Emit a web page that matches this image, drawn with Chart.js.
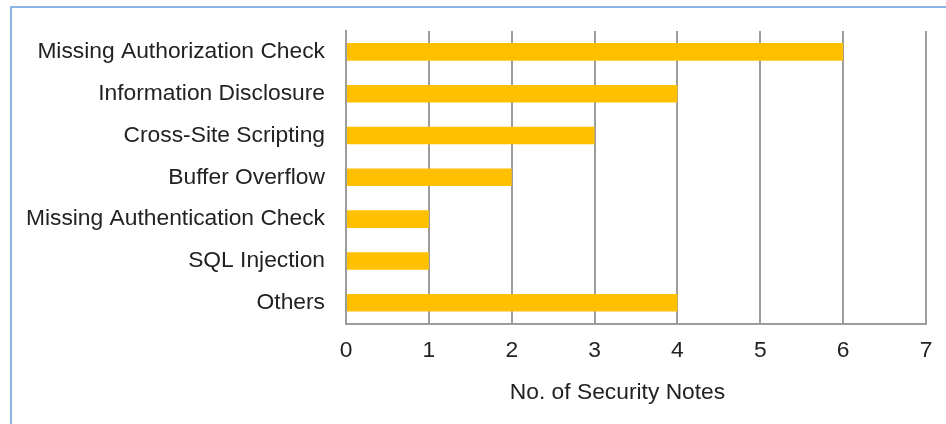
<!DOCTYPE html>
<html>
<head>
<meta charset="utf-8">
<script src="https://cdn.jsdelivr.net/npm/chart.js@4/dist/chart.umd.min.js"></script>
<style>
  html, body { margin: 0; padding: 0; background: #fff; }
  #wrap { position: relative; width: 946px; height: 424px; overflow: hidden; }
  #frame { position: absolute; left: 10px; top: 6px; width: 1000px; height: 500px;
           border-top: 2px solid #8db3e2; border-left: 2px solid #8db3e2; }
  #chart { position: absolute; left: 0; top: 0; }
</style>
</head>
<body>
<div id="wrap">
  <div id="frame"></div>
  <canvas id="chart" width="946" height="424"></canvas>
</div>
<script>
// Security note categories and counts
const categories = [
  'Missing Authorization Check',
  'Information Disclosure',
  'Cross-Site Scripting',
  'Buffer Overflow',
  'Missing Authentication Check',
  'SQL Injection',
  'Others'
];
const noteCounts = [6, 4, 3, 2, 1, 1, 4];
const axisTitle = 'No. of Security Notes';
const xTicks = [0, 1, 2, 3, 4, 5, 6, 7];

const textColor = '#222222';
const gridColor = '#9c9c9c';
const font = { family: "'Liberation Sans', Arial, sans-serif", size: 22.8 };

// the caption in the original sits a bit left of the plot centre
const shiftCaption = {
  id: 'shiftCaption',
  afterLayout(chart) {
    const t = chart.titleBlock;
    t.left = 309;
    t.width = t.right - t.left;
  }
};

let chart = new Chart(document.getElementById('chart'), {
  type: 'bar',
  data: {
    labels: categories,
    datasets: [{
      label: axisTitle,
      data: noteCounts,
      backgroundColor: '#ffc000',
      borderWidth: 0,
      barPercentage: 0.42,
      categoryPercentage: 1
    }]
  },
  options: {
    indexAxis: 'y',
    responsive: false,
    animation: false,
    layout: {
      padding: { top: 31, right: 20, bottom: 0, left: 0 }
    },
    plugins: {
      legend: { display: false },
      tooltip: { enabled: false },
      title: {
        display: true,
        text: axisTitle,
        position: 'bottom',
        fullSize: true,
        align: 'center',
        color: textColor,
        font: { ...font, weight: 'normal' },
        padding: { top: 0, bottom: 17.5 }
      }
    },
    scales: {
      x: {
        min: xTicks[0],
        max: xTicks[xTicks.length - 1],
        afterBuildTicks: (scale) => { scale.ticks = xTicks.map(v => ({ value: v })); },
        ticks: { color: textColor, font: font, padding: 13 },
        grid: { color: gridColor, lineWidth: 2, drawTicks: false },
        border: { display: true, color: gridColor, width: 2 },
        afterFit: (scale) => { scale.height = 55.5; }
      },
      y: {
        ticks: { color: textColor, font: font, padding: 21 },
        grid: { display: false, drawTicks: false },
        border: { display: true, color: gridColor, width: 2 },
        afterFit: (scale) => {
          scale.width = 346;
          scale.paddingTop = 0;
          scale.paddingBottom = 0;
        }
      }
    }
  },
  plugins: [shiftCaption]
});
</script>
</body>
</html>
